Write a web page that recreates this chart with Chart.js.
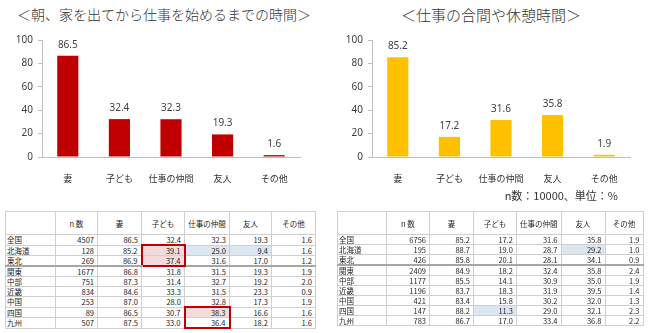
<!DOCTYPE html>
<html>
<head>
<meta charset="utf-8">
<script src="https://cdn.jsdelivr.net/npm/chart.js@4/dist/chart.umd.min.js"></script>
<style>
    body { margin: 0; background: #fff; font-family: "Noto Sans CJK JP", sans-serif; color: #333; }
    #page { position: relative; width: 650px; height: 333px; overflow: hidden; }
    .title { position: absolute; top: 4px; white-space: nowrap; color: #333; font-weight: 300; }
    .box { position: absolute; top: 0; }
    .note { position: absolute; top: 187px; right: 32px; font-size: 11px; color: #333; }
    table { position: absolute; top: 211px; border-collapse: collapse; table-layout: fixed; font-size: 7.5px; color: #262626; }
    th, td { border: 1px solid #cfcfcf; padding: 0 3px; height: 9px; line-height: 9px; white-space: nowrap; overflow: visible; }
    th { height: 22px; font-weight: normal; text-align: center; }
    td { text-align: right; }
    td.lbl { text-align: left; padding-left: 1px; }
    tr.sep td { border-bottom: 2px solid #a6a6a6; }
    .pink { background: #f2dcdb; }
    .blue { background: #dce6f1; }
    .rt { border-top: 2px solid #c00000 !important; border-left: 2px solid #c00000; border-right: 2px solid #c00000; }
    .rb { border-bottom: 2px solid #c00000 !important; border-left: 2px solid #c00000; border-right: 2px solid #c00000; }
</style>
</head>
<body>
<div id="page">
    <div class="title" style="left:17px; font-size:14px;">＜朝、家を出てから仕事を始めるまでの時間＞</div>
    <div class="title" style="left:401px; font-size:15px;">＜仕事の合間や休憩時間＞</div>
    <div class="box" style="left:0;"><canvas id="morningChart" width="325" height="200"></canvas></div>
    <div class="box" style="left:325px;"><canvas id="breakChart" width="325" height="200"></canvas></div>
    <div class="note">n数：10000、単位：%</div>
    <table id="morningTable" style="left:5px;"></table>
    <table id="breakTable" style="left:337px;"></table>
</div>
<script>
// グラフデータ
const categories = ['妻', '子ども', '仕事の仲間', '友人', 'その他'];
const morningValues = [86.5, 32.4, 32.3, 19.3, 1.6];
const breakValues = [85.2, 17.2, 31.6, 35.8, 1.9];
const yTicks = [0, 20, 40, 60, 80, 100];

// 地域別テーブル
const tableHeaders = ['', 'n 数', '妻', '子ども', '仕事の仲間', '友人', 'その他'];
const regions = ['全国', '北海道', '東北', '関東', '中部', '近畿', '中国', '四国', '九州'];

const morningN = [4507, 128, 269, 1677, 751, 834, 253, 89, 507];
const morningWife = [86.5, 85.2, 86.9, 86.8, 87.3, 84.6, 87.0, 86.5, 87.5];
const morningChild = [32.4, 39.1, 37.4, 31.8, 31.4, 33.3, 28.0, 30.7, 33.0];
const morningColleague = [32.3, 25.0, 31.6, 31.5, 32.7, 31.5, 32.8, 38.3, 36.4];
const morningFriend = [19.3, 9.4, 17.0, 19.3, 19.2, 23.3, 17.3, 16.6, 18.2];
const morningOther = [1.6, 1.6, 1.2, 1.9, 2.0, 0.9, 1.9, 1.6, 1.6];

const breakN = [6756, 195, 426, 2409, 1177, 1196, 421, 147, 783];
const breakWife = [85.2, 88.7, 85.8, 84.9, 85.5, 83.7, 83.4, 88.2, 86.7];
const breakChild = [17.2, 19.0, 20.1, 18.2, 14.1, 18.3, 15.8, 11.3, 17.0];
const breakColleague = [31.6, 28.7, 28.1, 32.4, 30.9, 31.9, 30.2, 29.0, 33.4];
const breakFriend = [35.8, 29.2, 34.1, 35.8, 35.0, 39.5, 32.0, 32.1, 36.8];
const breakOther = [1.9, 1.0, 0.9, 2.4, 1.9, 1.4, 1.3, 2.3, 2.2];

const FONT = '"Noto Sans", "Noto Sans CJK JP", sans-serif';

// 棒の上に数値を描く
const valueLabels = {
    id: 'valueLabels',
    afterDatasetsDraw(chart) {
        const ctx = chart.ctx;
        ctx.save();
        ctx.font = '10px ' + FONT;
        ctx.fillStyle = '#404040';
        ctx.textAlign = 'center';
        ctx.textBaseline = 'bottom';
        chart.getDatasetMeta(0).data.forEach((bar, i) => {
            ctx.fillText(chart.data.datasets[0].data[i].toFixed(1), bar.x, bar.y - 6);
        });
        ctx.restore();
    }
};

function makeChart(canvasId, values, color, axisWidth, rightPad) {
    return new Chart(document.getElementById(canvasId), {
        type: 'bar',
        data: {
            labels: categories,
            datasets: [{ data: values, backgroundColor: color, barPercentage: 0.82, categoryPercentage: 0.5 }]
        },
        options: {
            responsive: false,
            animation: false,
            layout: { padding: { top: 40, right: rightPad, left: 0, bottom: 0 } },
            plugins: { legend: { display: false }, tooltip: { enabled: false } },
            scales: {
                x: {
                    grid: { display: false },
                    border: { color: '#bfbfbf' },
                    ticks: { color: '#333', font: { size: 9, family: FONT }, padding: 9 },
                    afterFit(scale) { scale.height = 43; }
                },
                y: {
                    min: 0, max: 100,
                    afterBuildTicks(scale) { scale.ticks = yTicks.map(v => ({ value: v })); },
                    grid: { drawOnChartArea: false, tickLength: 4, color: '#bfbfbf' },
                    border: { color: '#bfbfbf' },
                    ticks: { color: '#404040', font: { size: 10, family: FONT }, padding: 5 },
                    afterFit(scale) { scale.width = axisWidth; }
                }
            }
        },
        plugins: [valueLabels]
    });
}

makeChart('morningChart', morningValues, '#c00000', 42, 25);
makeChart('breakChart', breakValues, '#ffc000', 47, 20);

// テーブル作成
function buildTable(id, widths, cols, marks) {
    const table = document.getElementById(id);
    let html = '<colgroup>' + widths.map(w => '<col style="width:' + w + 'px">').join('') + '</colgroup>';
    html += '<tr>' + tableHeaders.map(h => '<th>' + h + '</th>').join('') + '</tr>';
    regions.forEach((r, i) => {
        html += '<tr' + (i === 2 ? ' class="sep"' : '') + '><td class="lbl">' + r + '</td>';
        cols.forEach((col, j) => {
            const cls = marks[i + ',' + (j + 1)] || '';
            const v = j === 0 ? col[i] : col[i].toFixed(1);
            html += '<td class="' + cls + '">' + v + '</td>';
        });
        html += '</tr>';
    });
    table.innerHTML = html;
}

buildTable('morningTable', [50, 42, 44, 43, 45, 42, 44],
    [morningN, morningWife, morningChild, morningColleague, morningFriend, morningOther],
    { '1,3': 'pink rt', '2,3': 'pink rb', '1,4': 'blue', '1,5': 'blue', '7,4': 'pink rt', '8,4': 'rb' });

buildTable('breakTable', [49, 43, 44, 43, 42, 44, 38],
    [breakN, breakWife, breakChild, breakColleague, breakFriend, breakOther],
    { '1,5': 'blue', '7,3': 'blue' });
</script>
</body>
</html>
